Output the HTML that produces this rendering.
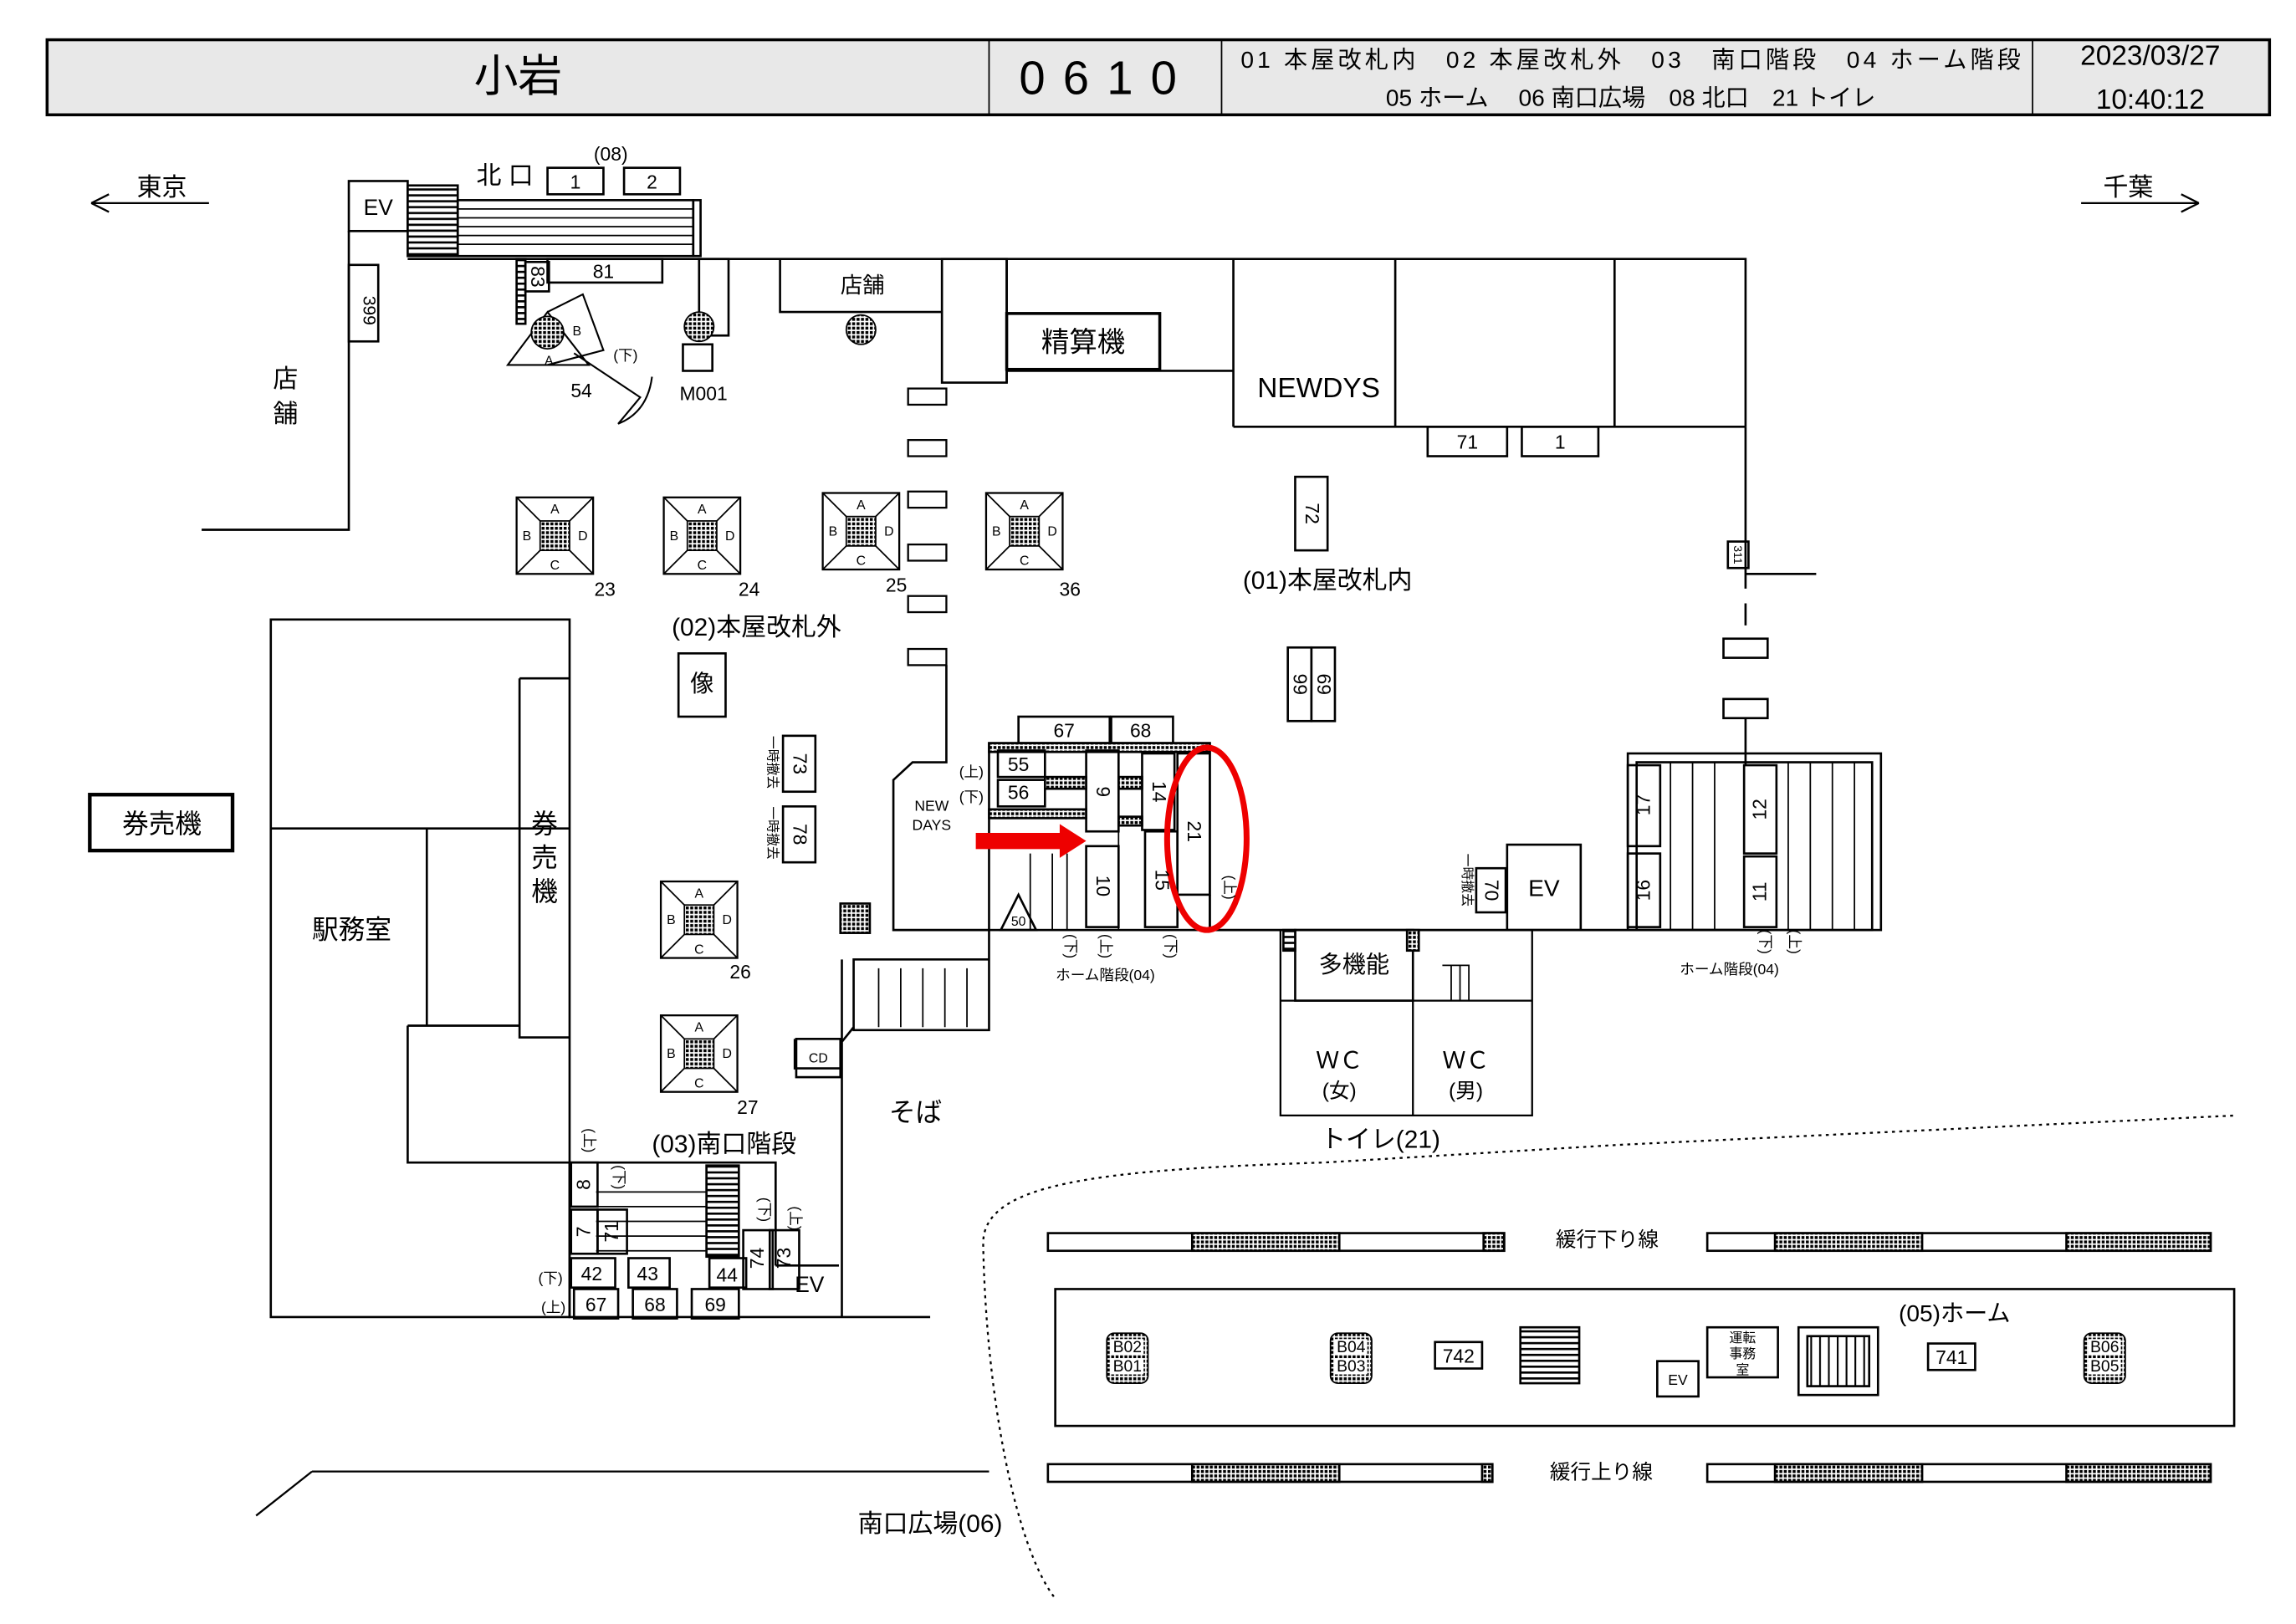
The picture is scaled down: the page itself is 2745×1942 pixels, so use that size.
<!DOCTYPE html>
<html><head><meta charset="utf-8"><style>
html,body{margin:0;padding:0;background:#fff;}
svg{display:block;}
text{font-family:"Liberation Sans","Noto Sans CJK JP",sans-serif;fill:#000;}
</style></head><body>
<svg width="2745" height="1942" viewBox="0 0 1560 1103.6" xmlns="http://www.w3.org/2000/svg">
<defs>
<pattern id="dots" width="3" height="3" patternUnits="userSpaceOnUse"><rect width="3" height="3" fill="#fff"/><rect width="2" height="2" fill="#000"/></pattern>
<pattern id="hl" width="4" height="4" patternUnits="userSpaceOnUse"><rect width="4" height="4" fill="#fff"/><rect width="4" height="1.5" fill="#000"/></pattern>
<pattern id="vl" width="6" height="6" patternUnits="userSpaceOnUse"><rect width="6" height="6" fill="#fff"/><rect width="1.2" height="6" fill="#000"/></pattern>
<g id="sq">
<rect x="-26" y="-26" width="52" height="52" fill="#fff" stroke="#000" stroke-width="1.3"/>
<path d="M-26-26L-9-9M26-26L9-9M-26 26L-9 9M26 26L9 9" stroke="#000" stroke-width="1"/>
<rect x="-10" y="-10" width="20" height="20" fill="url(#dots)" stroke="#000"/>
<text x="0" y="-15" font-size="9" text-anchor="middle">A</text>
<text x="0" y="23" font-size="9" text-anchor="middle">C</text>
<text x="-19" y="3" font-size="9" text-anchor="middle">B</text>
<text x="19" y="3" font-size="9" text-anchor="middle">D</text>
</g>
<g id="bb">
<rect x="0" y="0" width="28" height="34" rx="5" fill="url(#dots)" stroke="#000"/>
<rect x="3" y="4" width="22" height="11" fill="#fff"/>
<rect x="3" y="17" width="22" height="11" fill="#fff"/>
</g>
</defs>
<g fill="none" stroke="#000" stroke-width="1.5">
<rect x="32" y="27" width="1510" height="51" fill="#e8e8e8" stroke-width="2"/>
<path d="M672 27V78M830 27V78M1381 27V78" stroke-width="1"/>
<path d="M62 138H142M62 138l12-6M62 138l12 6M1414 138H1494M1494 138l-12-6M1494 138l-12 6" stroke-width="1.3"/>
<rect x="237" y="123" width="40" height="34"/>
<rect x="277" y="126" width="34" height="48" fill="url(#hl)"/>
<rect x="311" y="136" width="160" height="38"/>
<path d="M311 142H471M311 148H471M311 154H471M311 160H471M311 166H471" stroke-width="1"/>
<rect x="471" y="136" width="5" height="38"/>
<rect x="372" y="114" width="38" height="18"/><rect x="424" y="114" width="38" height="18"/>
<path d="M237 157V360H137"/>
<rect x="237" y="180" width="20" height="52"/>
<path d="M277 176H1186V290"/>
<rect x="372" y="176" width="78" height="16"/>
<rect x="351" y="176" width="6" height="44" fill="url(#hl)"/>
<rect x="357" y="178" width="16" height="20"/>
<rect x="475" y="176" width="20" height="52"/>
<rect x="464" y="234" width="20" height="18"/>
<path d="M530 176V212H640"/>
<rect x="640" y="176" width="44" height="84"/>
<path d="M684 176V260M684 252H838V176M838 290H1186M948 176V290M1097 176V290M838 176V290"/>
<rect x="684" y="213" width="104" height="38" stroke-width="2"/>
<rect x="970" y="290" width="54" height="20"/><rect x="1034" y="290" width="52" height="20"/>
<path d="M1186 290V400M1186 390H1234"/>
<rect x="1174" y="368" width="14" height="18"/>
<rect x="1171" y="434" width="30" height="13"/><rect x="1171" y="475" width="30" height="13"/>
<path d="M1186 410V425M1186 488V520"/>
<path d="M345 248L372 212L400 248Z M372 212L396 200L410 238L372 248" stroke-width="1.2"/>
<path d="M390 240L435 270L420 288Q440 280 443 256" stroke-width="1.2"/>
<g stroke-width="1.3">
<rect x="617" y="264" width="26" height="11"/><rect x="617" y="299" width="26" height="11"/><rect x="617" y="334" width="26" height="11"/><rect x="617" y="370" width="26" height="11"/><rect x="617" y="405" width="26" height="11"/><rect x="617" y="441" width="26" height="11"/>
</g>
<path d="M643 452V518H620L607 530V632H672"/>
<rect x="880" y="324" width="22" height="50"/>
<rect x="875" y="440" width="16" height="50"/><rect x="891" y="440" width="16" height="50"/>
<path d="M184 421H387V895H184Z M184 563H387M290 563V697M277 697H353V700M277 697V790H387M353 461H387M353 461V705H387"/>
<rect x="461" y="444" width="32" height="43"/>
<rect x="532" y="500" width="22" height="38"/><rect x="532" y="548" width="22" height="38"/>
<rect x="61" y="540" width="97" height="38" stroke-width="2.5"/>
<rect x="571" y="614" width="20" height="20" fill="url(#dots)"/>
<rect x="672" y="505" width="150" height="127"/>
<rect x="692" y="487" width="62" height="18"/><rect x="755" y="487" width="42" height="18"/>
<rect x="672" y="505" width="150" height="6" fill="url(#dots)"/>
<rect x="678" y="510" width="32" height="18"/><rect x="678" y="530" width="32" height="18"/>
<rect x="672" y="550" width="66" height="6" fill="url(#dots)"/>
<rect x="710" y="528" width="28" height="8" fill="url(#dots)"/>
<rect x="760" y="528" width="16" height="8" fill="url(#dots)"/>
<rect x="760" y="555" width="16" height="6" fill="url(#dots)"/>
<rect x="738" y="510" width="22" height="55"/>
<rect x="776" y="512" width="22" height="52"/>
<rect x="800" y="512" width="22" height="96"/>
<rect x="738" y="575" width="22" height="55"/>
<rect x="778" y="565" width="22" height="65"/>
<path d="M700 580V632M715 580V632M725 580V632M760 565V632" stroke-width="1"/>
<path d="M680 632L692 608L704 632Z"/>
<path d="M822 632H1186M822 632V608"/>
<rect x="880" y="632" width="80" height="48"/>
<path d="M870 632V758H1041V632M960 632V758M870 680H1041" stroke-width="1.3"/>
<rect x="956" y="632" width="8" height="14" fill="url(#dots)"/>
<rect x="872" y="632" width="8" height="14" fill="url(#hl)"/>
<path d="M980 656H998V680M986 656V680M992 656V680" stroke-width="1"/>
<rect x="1003" y="590" width="20" height="30"/>
<rect x="1024" y="574" width="50" height="58"/>
<rect x="1106" y="512" width="172" height="120"/>
<rect x="1112" y="518" width="160" height="114"/>
<path d="M1135 518V632M1150 518V632M1165 518V632M1215 518V632M1230 518V632M1245 518V632M1260 518V632" stroke-width="1"/>
<rect x="1106" y="520" width="22" height="55"/><rect x="1106" y="580" width="22" height="50"/>
<rect x="1185" y="520" width="22" height="60"/><rect x="1185" y="582" width="22" height="48"/>
<path d="M672 632V700H580V652H672M580 698L572 708V726H540V706M572 708V895"/>
<path d="M572 652V708" />
<path d="M597 658V698M612 658V698M627 658V698M642 658V698M657 658V698M672 658V698" stroke-width="1"/>
<rect x="541" y="706" width="30" height="26"/>
<path d="M387 790H527V860M387 790V895H632M527 860H570"/>
<rect x="480" y="792" width="22" height="62" fill="url(#hl)"/>
<path d="M405 810H480M405 820H480M405 830H480M405 840H480M405 850H480" stroke-width="1"/>
<rect x="388" y="790" width="18" height="30"/><rect x="388" y="822" width="18" height="30"/><rect x="406" y="822" width="20" height="30"/>
<rect x="505" y="836" width="20" height="40"/><rect x="523" y="836" width="20" height="40"/>
<rect x="388" y="855" width="30" height="20"/><rect x="427" y="855" width="28" height="20"/><rect x="482" y="855" width="25" height="20"/>
<rect x="390" y="876" width="30" height="20"/><rect x="430" y="876" width="30" height="20"/><rect x="470" y="876" width="32" height="20"/>
<path d="M212 1000H672M212 1000L174 1030" stroke-width="1.3"/>
<path d="M716 1085C690 1050 670 950 668 845C668 805 740 795 900 790L1100 778L1520 758" stroke-dasharray="2 3" stroke-width="1.3"/>
<rect x="712" y="838" width="310" height="12"/><rect x="810" y="838" width="100" height="12" fill="url(#dots)"/><rect x="1008" y="838" width="14" height="12" fill="url(#dots)"/>
<rect x="1160" y="838" width="342" height="12"/><rect x="1206" y="838" width="100" height="12" fill="url(#dots)"/><rect x="1404" y="838" width="98" height="12" fill="url(#dots)"/>
<rect x="712" y="995" width="302" height="12"/><rect x="810" y="995" width="100" height="12" fill="url(#dots)"/><rect x="1007" y="995" width="7" height="12" fill="url(#dots)"/>
<rect x="1160" y="995" width="342" height="12"/><rect x="1206" y="995" width="100" height="12" fill="url(#dots)"/><rect x="1404" y="995" width="98" height="12" fill="url(#dots)"/>
<rect x="717" y="876" width="801" height="93"/>
<rect x="975" y="912" width="32" height="18"/>
<rect x="1033" y="902" width="40" height="38" fill="url(#hl)"/>
<rect x="1126" y="925" width="28" height="24"/>
<rect x="1160" y="902" width="48" height="34"/>
<rect x="1222" y="902" width="54" height="46"/><rect x="1228" y="908" width="42" height="34" fill="url(#vl)"/>
<rect x="1310" y="913" width="32" height="18"/>
<ellipse cx="820" cy="570" rx="27" ry="62" stroke="#e00" stroke-width="4"/>
</g>
<use href="#bb" x="752" y="906"/><use href="#bb" x="904" y="906"/><use href="#bb" x="1416" y="906"/>
<rect x="663" y="566" width="60" height="11" fill="#e00"/>
<path d="M720 560L738 571.5L720 583Z" fill="#e00"/>
<circle cx="372" cy="226" r="11" fill="url(#dots)" stroke="#000"/>
<circle cx="475" cy="222" r="10" fill="url(#dots)" stroke="#000"/>
<circle cx="585" cy="224" r="10" fill="url(#dots)" stroke="#000"/>
<use href="#sq" x="377" y="364"/><use href="#sq" x="477" y="364"/><use href="#sq" x="585" y="361"/><use href="#sq" x="696" y="361"/>
<use href="#sq" x="475" y="625"/><use href="#sq" x="475" y="716"/>
<text x="352" y="62" font-size="30" text-anchor="middle">小岩</text>
<text x="752" y="64" font-size="32" text-anchor="middle" letter-spacing="12">0610</text>
<text x="1108" y="46" font-size="16" text-anchor="middle" textLength="530">01 本屋改札内　02 本屋改札外　03　南口階段　04 ホーム階段</text>
<text x="1108" y="72" font-size="16" text-anchor="middle">05 ホーム　 06 南口広場　08 北口　21 トイレ</text>
<text x="1461" y="44" font-size="19" text-anchor="middle">2023/03/27</text>
<text x="1461" y="74" font-size="19" text-anchor="middle">10:40:12</text>
<text x="110" y="133" font-size="17" text-anchor="middle">東京</text>
<text x="1446" y="133" font-size="17" text-anchor="middle">千葉</text>
<text x="257" y="146" font-size="15" text-anchor="middle">EV</text>
<text x="343" y="125" font-size="17" text-anchor="middle">北 口</text>
<text x="415" y="109" font-size="13" text-anchor="middle">(08)</text>
<text x="391" y="128" font-size="13" text-anchor="middle">1</text><text x="443" y="128" font-size="13" text-anchor="middle">2</text>
<text x="410" y="189" font-size="13" text-anchor="middle">81</text>
<text x="252" y="206" font-size="12" text-anchor="middle" transform="rotate(90 247 206)">399</text>
<text x="194" y="263" font-size="17" text-anchor="middle">店</text><text x="194" y="287" font-size="17" text-anchor="middle">舗</text>
<text x="586" y="199" font-size="15" text-anchor="middle">店舗</text>
<text x="736" y="239" font-size="19" text-anchor="middle">精算機</text>
<text x="896" y="270" font-size="19" text-anchor="middle">NEWDYS</text>
<text x="997" y="305" font-size="13" text-anchor="middle">71</text><text x="1060" y="305" font-size="13" text-anchor="middle">1</text>
<text x="395" y="270" font-size="13" text-anchor="middle">54</text>
<text x="478" y="272" font-size="13" text-anchor="middle">M001</text>
<text x="425" y="245" font-size="10" text-anchor="middle">(下)</text>
<text x="411" y="405" font-size="13" text-anchor="middle">23</text><text x="509" y="405" font-size="13" text-anchor="middle">24</text>
<text x="609" y="402" font-size="13" text-anchor="middle">25</text><text x="727" y="405" font-size="13" text-anchor="middle">36</text>
<text x="503" y="665" font-size="13" text-anchor="middle">26</text><text x="508" y="757" font-size="13" text-anchor="middle">27</text>
<text x="514" y="432" font-size="17" text-anchor="middle">(02)本屋改札外</text>
<text x="902" y="400" font-size="17" text-anchor="middle">(01)本屋改札内</text>
<text x="477" y="470" font-size="16" text-anchor="middle">像</text>
<text x="110" y="566" font-size="18" text-anchor="middle">券売機</text>
<text x="370" y="566" font-size="18" text-anchor="middle">券</text><text x="370" y="589" font-size="18" text-anchor="middle">売</text><text x="370" y="612" font-size="18" text-anchor="middle">機</text>
<text x="239" y="638" font-size="18" text-anchor="middle">駅務室</text>
<text x="633" y="551" font-size="10" text-anchor="middle">NEW</text><text x="633" y="564" font-size="10" text-anchor="middle">DAYS</text>
<text x="723" y="501" font-size="13" text-anchor="middle">67</text><text x="775" y="501" font-size="13" text-anchor="middle">68</text>
<text x="692" y="524" font-size="13" text-anchor="middle">55</text><text x="692" y="543" font-size="13" text-anchor="middle">56</text>
<text x="660" y="528" font-size="10" text-anchor="middle">(上)</text><text x="660" y="545" font-size="10" text-anchor="middle">(下)</text>
<text x="751" y="666" font-size="10" text-anchor="middle">ホーム階段(04)</text>
<text x="1175" y="662" font-size="10" text-anchor="middle">ホーム階段(04)</text>
<text x="1049" y="609" font-size="16" text-anchor="middle">EV</text>
<text x="920" y="661" font-size="16" text-anchor="middle">多機能</text>
<text x="910" y="726" font-size="16" text-anchor="middle">ＷＣ</text><text x="910" y="746" font-size="14" text-anchor="middle">(女)</text>
<text x="996" y="726" font-size="16" text-anchor="middle">ＷＣ</text><text x="996" y="746" font-size="14" text-anchor="middle">(男)</text>
<text x="938" y="780" font-size="17" text-anchor="middle">トイレ(21)</text>
<text x="622" y="762" font-size="18" text-anchor="middle">そば</text>
<text x="556" y="722" font-size="9" text-anchor="middle">CD</text>
<text x="492" y="783" font-size="17" text-anchor="middle">(03)南口階段</text>
<text x="550" y="878" font-size="15" text-anchor="middle">EV</text>
<text x="402" y="870" font-size="13" text-anchor="middle">42</text><text x="440" y="870" font-size="13" text-anchor="middle">43</text><text x="494" y="871" font-size="13" text-anchor="middle">44</text>
<text x="405" y="891" font-size="13" text-anchor="middle">67</text><text x="445" y="891" font-size="13" text-anchor="middle">68</text><text x="486" y="891" font-size="13" text-anchor="middle">69</text>
<text x="374" y="872" font-size="10" text-anchor="middle">(下)</text><text x="376" y="892" font-size="10" text-anchor="middle">(上)</text>
<text x="1092" y="847" font-size="14" text-anchor="middle">緩行下り線</text>
<text x="1088" y="1005" font-size="14" text-anchor="middle">緩行上り線</text>
<text x="1328" y="898" font-size="16" text-anchor="middle">(05)ホーム</text>
<g font-size="11" text-anchor="middle">
<text x="766" y="919">B02</text><text x="766" y="932">B01</text>
<text x="918" y="919">B04</text><text x="918" y="932">B03</text>
<text x="1430" y="919">B06</text><text x="1430" y="932">B05</text>
</g>
<text x="991" y="926" font-size="13" text-anchor="middle">742</text><text x="1326" y="927" font-size="13" text-anchor="middle">741</text>
<text x="1140" y="941" font-size="10" text-anchor="middle">EV</text>
<text x="1184" y="912" font-size="9" text-anchor="middle">運転</text><text x="1184" y="923" font-size="9" text-anchor="middle">事務</text><text x="1184" y="934" font-size="9" text-anchor="middle">室</text>
<text x="632" y="1041" font-size="17" text-anchor="middle">南口広場(06)</text>
<g font-size="13" text-anchor="middle">
<text transform="translate(749 538) rotate(90)" y="4">9</text>
<text transform="translate(787 538) rotate(90)" y="4">14</text>
<text transform="translate(811 565) rotate(90)" y="4">21</text>
<text transform="translate(749 602) rotate(90)" y="4">10</text>
<text transform="translate(789 598) rotate(90)" y="4">15</text>
<text transform="translate(1117 547) rotate(-90)" y="4">17</text>
<text transform="translate(1117 605) rotate(-90)" y="4">16</text>
<text transform="translate(1196 550) rotate(-90)" y="4">12</text>
<text transform="translate(1196 606) rotate(-90)" y="4">11</text>
<text transform="translate(891 349) rotate(90)" y="4">72</text>
<text transform="translate(883 465) rotate(90)" y="4">99</text>
<text transform="translate(899 465) rotate(90)" y="4">69</text>
<text transform="translate(543 519) rotate(90)" y="4">73</text>
<text transform="translate(543 567) rotate(90)" y="4">78</text>
<text transform="translate(1013 605) rotate(90)" y="4">70</text>
<text transform="translate(365 188) rotate(90)" y="4">83</text>
<text transform="translate(397 805) rotate(-90)" y="4">8</text>
<text transform="translate(397 837) rotate(-90)" y="4">7</text>
<text transform="translate(416 837) rotate(-90)" y="4">71</text>
<text transform="translate(515 855) rotate(-90)" y="4">74</text>
<text transform="translate(533 855) rotate(-90)" y="4">73</text>
<text transform="translate(1181 377) rotate(90)" y="3" font-size="8">311</text>
</g>
<g font-size="9" text-anchor="middle">
<text transform="translate(522 518) rotate(90)">一時撤去</text>
<text transform="translate(522 566) rotate(90)">一時撤去</text>
<text transform="translate(994 598) rotate(90)">一時撤去</text>
<text x="692" y="629">50</text>
<text x="373" y="248">A</text><text x="392" y="228">B</text>
</g>
<g font-size="10" text-anchor="middle">
<text transform="translate(724 643) rotate(90)">(下)</text>
<text transform="translate(748 643) rotate(90)">(上)</text>
<text transform="translate(792 643) rotate(90)">(下)</text>
<text transform="translate(832 603) rotate(90)">(上)</text>
<text transform="translate(1196 640) rotate(90)">(下)</text>
<text transform="translate(1216 640) rotate(90)">(上)</text>
<text transform="translate(397 775) rotate(90)">(上)</text>
<text transform="translate(417 800) rotate(90)">(下)</text>
<text transform="translate(516 822) rotate(90)">(下)</text>
<text transform="translate(537 828) rotate(90)">(上)</text>
</g>
</svg>
</body></html>
